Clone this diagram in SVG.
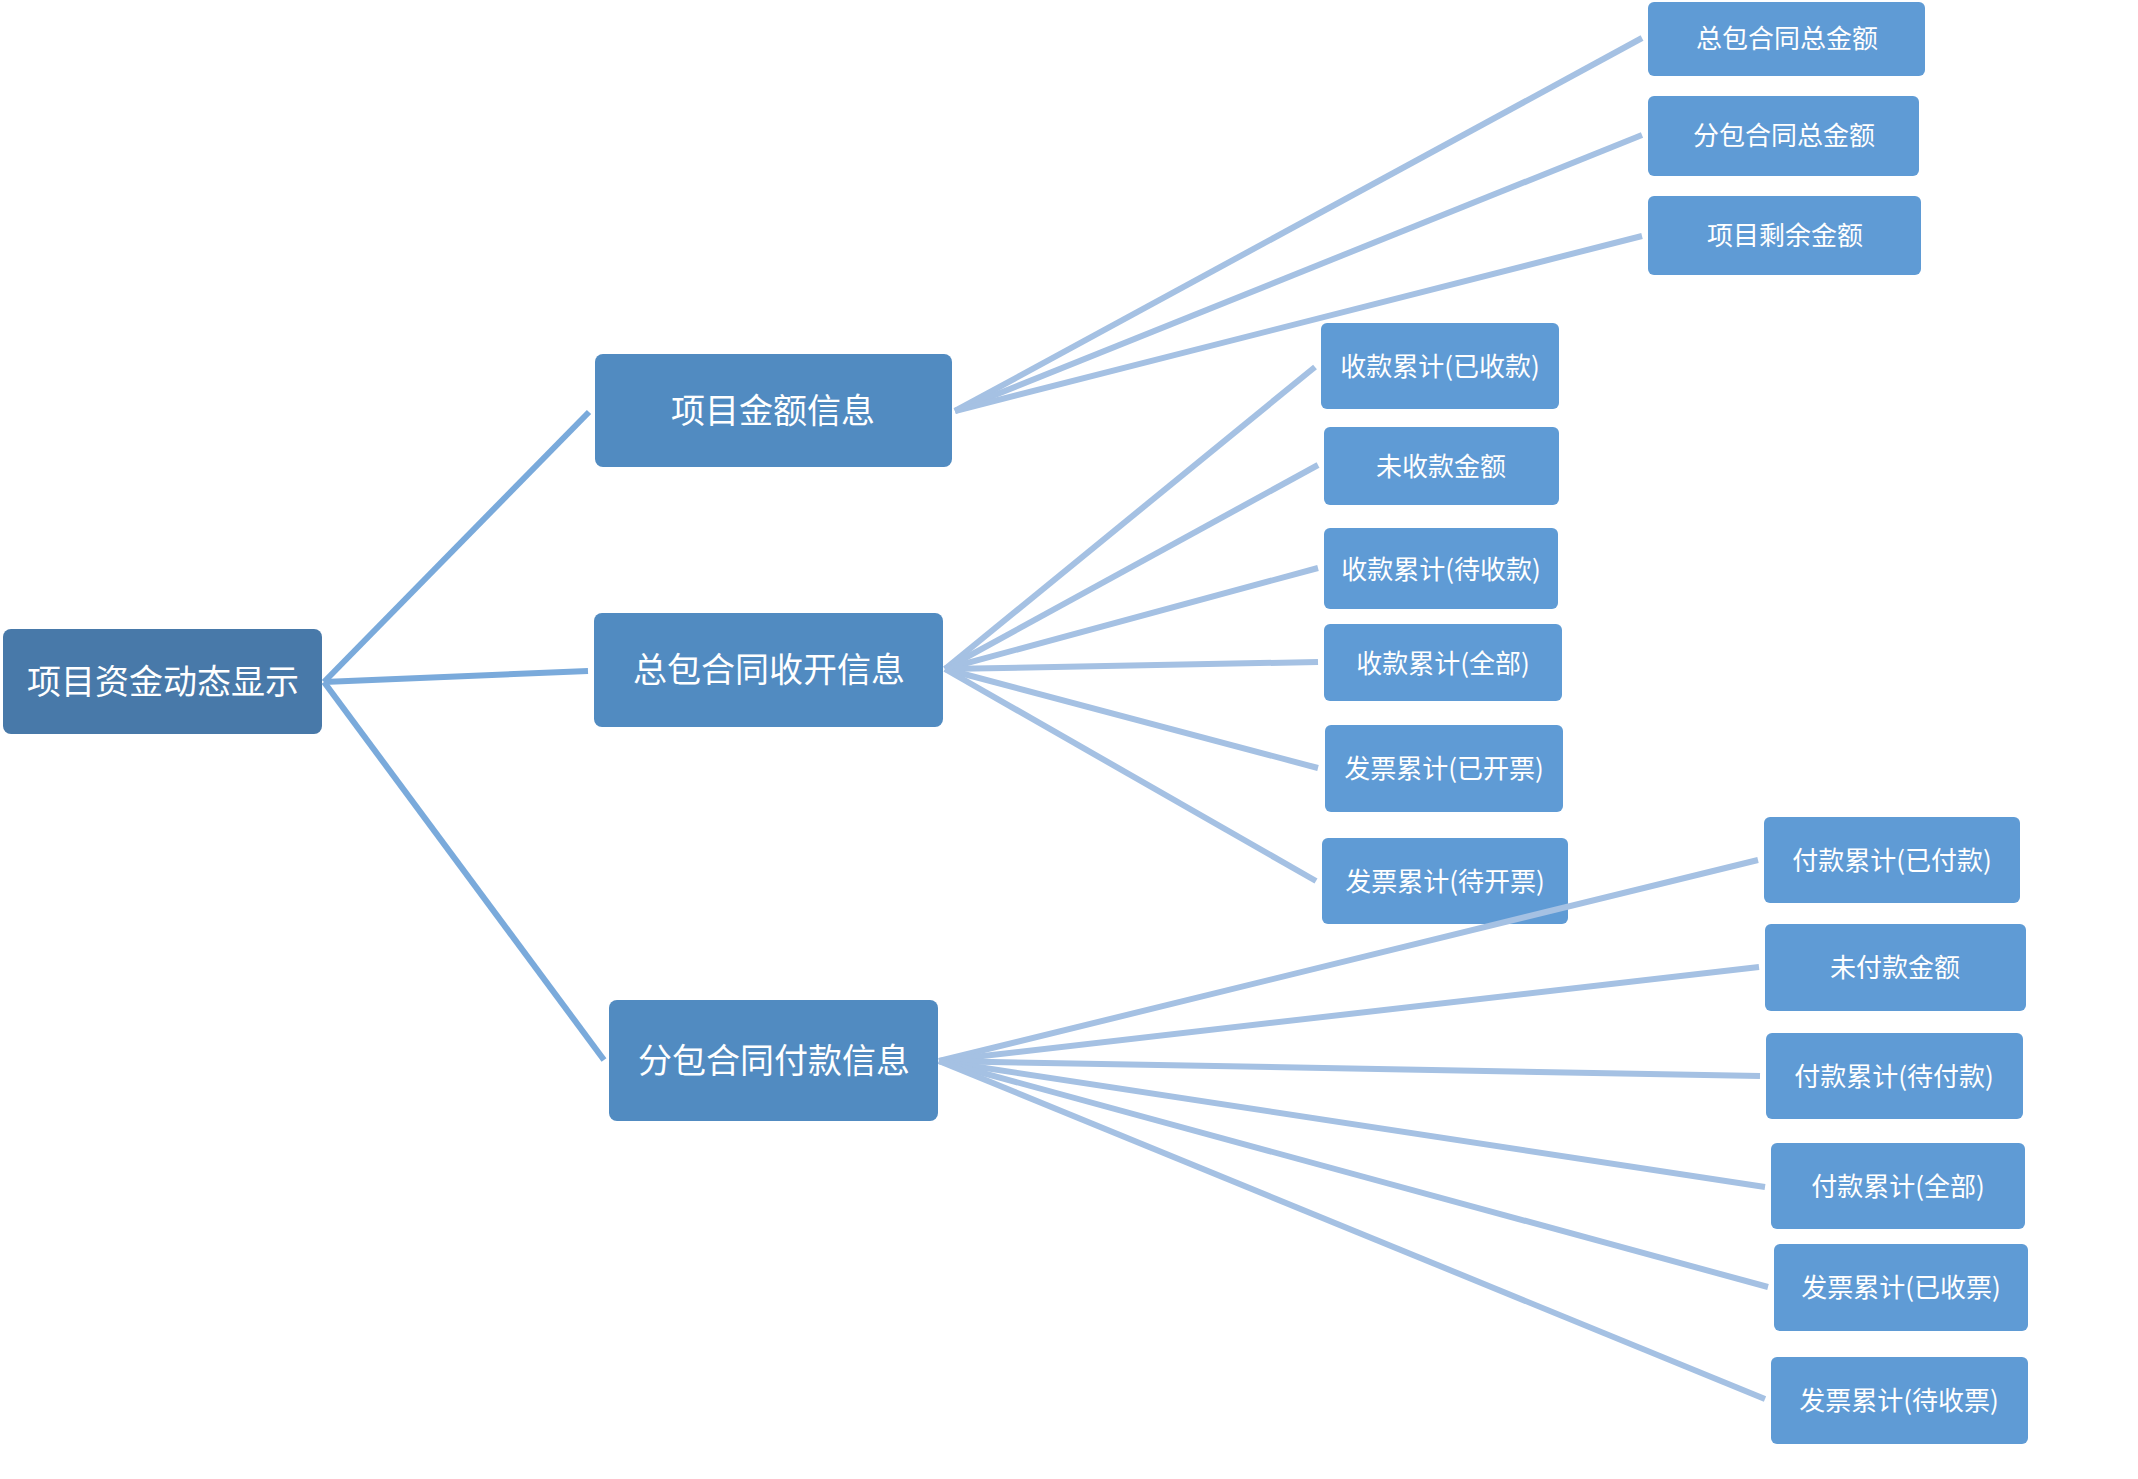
<svg xmlns="http://www.w3.org/2000/svg" width="2138" height="1479" viewBox="0 0 2138 1479">
<style>
.root{fill:#4879A9}
.l1{fill:#518BC1}
.leaf{fill:#5F9BD5}
text{font-family:"Noto Sans CJK SC","Microsoft YaHei",sans-serif;fill:#FFFFFF;text-anchor:middle;dominant-baseline:central}
.t1{font-size:34px}
.t2{font-size:26px}
.c1{stroke:#7AAADB;stroke-width:6;fill:none;stroke-linecap:butt}
.c2{stroke:#A5C1E3;stroke-width:6;fill:none;stroke-linecap:butt}
</style>
<rect width="2138" height="1479" fill="#FFFFFF"/>
<g id="nodes">
<g id="n-root"><rect class="root" x="3" y="629" width="319" height="105" rx="8"/><text class="t1" x="163" y="679">项目资金动态显示</text></g>
<g id="n-l1a"><rect class="l1" x="595" y="354" width="357" height="113" rx="8"/><text class="t1" x="773" y="408">项目金额信息</text></g>
<g id="n-l1b"><rect class="l1" x="594" y="613" width="349" height="114" rx="8"/><text class="t1" x="769" y="667">总包合同收开信息</text></g>
<g id="n-l1c"><rect class="l1" x="609" y="1000" width="329" height="121" rx="8"/><text class="t1" x="774" y="1058">分包合同付款信息</text></g>

<g id="n-a1"><rect class="leaf" x="1648" y="2" width="277" height="74" rx="6"/><text class="t2" x="1787" y="36">总包合同总金额</text></g>
<g id="n-a2"><rect class="leaf" x="1648" y="96" width="271" height="80" rx="6"/><text class="t2" x="1784" y="133">分包合同总金额</text></g>
<g id="n-a3"><rect class="leaf" x="1648" y="196" width="273" height="79" rx="6"/><text class="t2" x="1785" y="233">项目剩余金额</text></g>

<g id="n-b1"><rect class="leaf" x="1321" y="323" width="238" height="86" rx="6"/><text class="t2" x="1440" y="364">收款累计(已收款)</text></g>
<g id="n-b2"><rect class="leaf" x="1324" y="427" width="235" height="78" rx="6"/><text class="t2" x="1441" y="464">未收款金额</text></g>
<g id="n-b3"><rect class="leaf" x="1324" y="528" width="234" height="81" rx="6"/><text class="t2" x="1441" y="567">收款累计(待收款)</text></g>
<g id="n-b4"><rect class="leaf" x="1324" y="624" width="238" height="77" rx="6"/><text class="t2" x="1443" y="661">收款累计(全部)</text></g>
<g id="n-b5"><rect class="leaf" x="1325" y="725" width="238" height="87" rx="6"/><text class="t2" x="1444" y="766">发票累计(已开票)</text></g>
<g id="n-b6"><rect class="leaf" x="1322" y="838" width="246" height="86" rx="6"/><text class="t2" x="1445" y="879">发票累计(待开票)</text></g>

<g id="n-c1"><rect class="leaf" x="1764" y="817" width="256" height="86" rx="6"/><text class="t2" x="1892" y="858">付款累计(已付款)</text></g>
<g id="n-c2"><rect class="leaf" x="1765" y="924" width="261" height="87" rx="6"/><text class="t2" x="1895" y="965">未付款金额</text></g>
<g id="n-c3"><rect class="leaf" x="1766" y="1033" width="257" height="86" rx="6"/><text class="t2" x="1894" y="1074">付款累计(待付款)</text></g>
<g id="n-c4"><rect class="leaf" x="1771" y="1143" width="254" height="86" rx="6"/><text class="t2" x="1898" y="1184">付款累计(全部)</text></g>
<g id="n-c5"><rect class="leaf" x="1774" y="1244" width="254" height="87" rx="6"/><text class="t2" x="1901" y="1285">发票累计(已收票)</text></g>
<g id="n-c6"><rect class="leaf" x="1771" y="1357" width="257" height="87" rx="6"/><text class="t2" x="1899" y="1398">发票累计(待收票)</text></g>
</g>
<g id="connectors">
<line class="c1" x1="324" y1="682" x2="589" y2="412"/>
<line class="c1" x1="324" y1="682" x2="588" y2="671"/>
<line class="c1" x1="324" y1="682" x2="604" y2="1060"/>

<line class="c2" x1="955" y1="411" x2="1642" y2="38"/>
<line class="c2" x1="955" y1="411" x2="1642" y2="135"/>
<line class="c2" x1="955" y1="411" x2="1642" y2="236"/>

<line class="c2" x1="945" y1="669" x2="1315" y2="367"/>
<line class="c2" x1="945" y1="669" x2="1318" y2="465"/>
<line class="c2" x1="945" y1="669" x2="1318" y2="568"/>
<line class="c2" x1="945" y1="669" x2="1318" y2="662"/>
<line class="c2" x1="945" y1="669" x2="1318" y2="768"/>
<line class="c2" x1="945" y1="669" x2="1316" y2="881"/>

<line class="c2" x1="939" y1="1061" x2="1758" y2="860"/>
<line class="c2" x1="939" y1="1061" x2="1759" y2="967"/>
<line class="c2" x1="939" y1="1061" x2="1760" y2="1076"/>
<line class="c2" x1="939" y1="1061" x2="1765" y2="1187"/>
<line class="c2" x1="939" y1="1061" x2="1768" y2="1287"/>
<line class="c2" x1="939" y1="1061" x2="1765" y2="1399"/>
</g>
</svg>
